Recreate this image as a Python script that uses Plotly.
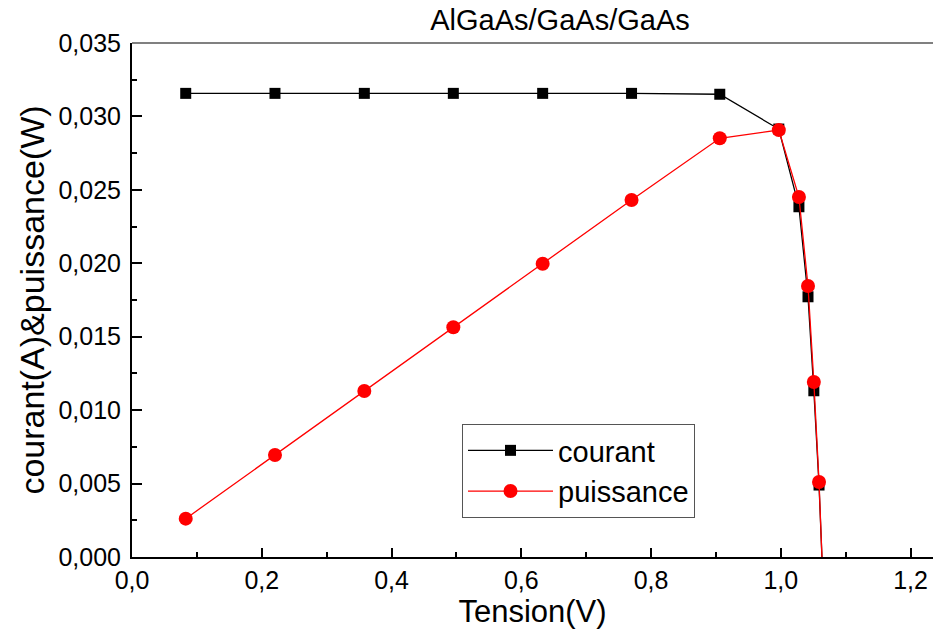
import plotly.graph_objects as go

# Data
tension = [0.0828, 0.2204, 0.3581, 0.4953, 0.6330, 0.7700, 0.9060, 0.9970,
           1.0280, 1.0420, 1.0510, 1.0590, 1.0644]
courant = [0.03157, 0.03157, 0.03157, 0.03157, 0.03157, 0.03157, 0.03151, 0.02914,
           0.02385, 0.01772, 0.01132, 0.00490, -0.0010]
puissance = [0.00261, 0.00695, 0.01130, 0.01564, 0.01997, 0.02431, 0.02851, 0.02907,
             0.02451, 0.01845, 0.01192, 0.00511, -0.0010]

x_ticks = [0.0, 0.2, 0.4, 0.6, 0.8, 1.0, 1.2]
y_ticks = [0.000, 0.005, 0.010, 0.015, 0.020, 0.025, 0.030, 0.035]

FONT = "Liberation Sans, Arial, sans-serif"

fig = go.Figure()
fig.add_trace(go.Scatter(
    x=tension, y=courant, name="courant", mode="lines+markers",
    line=dict(color="black", width=1.3),
    marker=dict(symbol="square", size=11, color="black"),
    cliponaxis=True,
))
fig.add_trace(go.Scatter(
    x=tension, y=puissance, name="puissance", mode="lines+markers",
    line=dict(color="#ff0000", width=1.3),
    marker=dict(symbol="circle", size=14, color="#ff0000"),
    cliponaxis=True,
))

fig.update_layout(
    width=933, height=635,
    margin=dict(l=132, r=0, t=43, b=78),
    paper_bgcolor="white", plot_bgcolor="white",
    separators=",.",
    font=dict(family=FONT, color="black"),
    title=dict(text="AlGaAs/GaAs/GaAs", font=dict(size=29, family=FONT, color="black"),
               x=560/933, xref="container", xanchor="center",
               y=1 - 20/635, yref="container", yanchor="middle"),
    showlegend=True,
    legend=dict(x=(462-132)/801, y=(557-424)/514, xanchor="left", yanchor="top",
                bordercolor="#555555", borderwidth=1, bgcolor="white",
                font=dict(size=29, family=FONT, color="black"),
                tracegroupgap=0, itemwidth=85),
    xaxis=dict(
        range=[0, 801/648.75], showgrid=False, zeroline=False,
        showline=True, linecolor="black", linewidth=2,
        tickvals=x_ticks, tickformat=".1f",
        ticks="inside", ticklen=9, tickwidth=2, tickcolor="black",
        minor=dict(ticks="inside", ticklen=5, tickwidth=1.5, tickcolor="black", dtick=0.1),
        tickfont=dict(size=25, family=FONT, color="black"),
        title=dict(text="Tension(V)", font=dict(size=31, family=FONT, color="black"), standoff=3),
    ),
    yaxis=dict(
        range=[0, 0.035], showgrid=False, zeroline=False,
        showline=True, linecolor="black", linewidth=2,
        tickvals=y_ticks, tickformat=".3f",
        ticks="inside", ticklen=10, tickwidth=2, tickcolor="black",
        minor=dict(ticks="inside", ticklen=5, tickwidth=1.5, tickcolor="black", dtick=0.0025),
        tickfont=dict(size=25, family=FONT, color="black"),
        ticklabelstandoff=4,
        title=dict(text="courant(A)&puissance(W)", font=dict(size=34, family=FONT, color="black"), standoff=4),
    ),
    shapes=[dict(type="line", xref="paper", yref="paper", x0=0, x1=1, y0=1, y1=1,
                 line=dict(color="#808080", width=2))],
)

fig.write_html("out.html")
